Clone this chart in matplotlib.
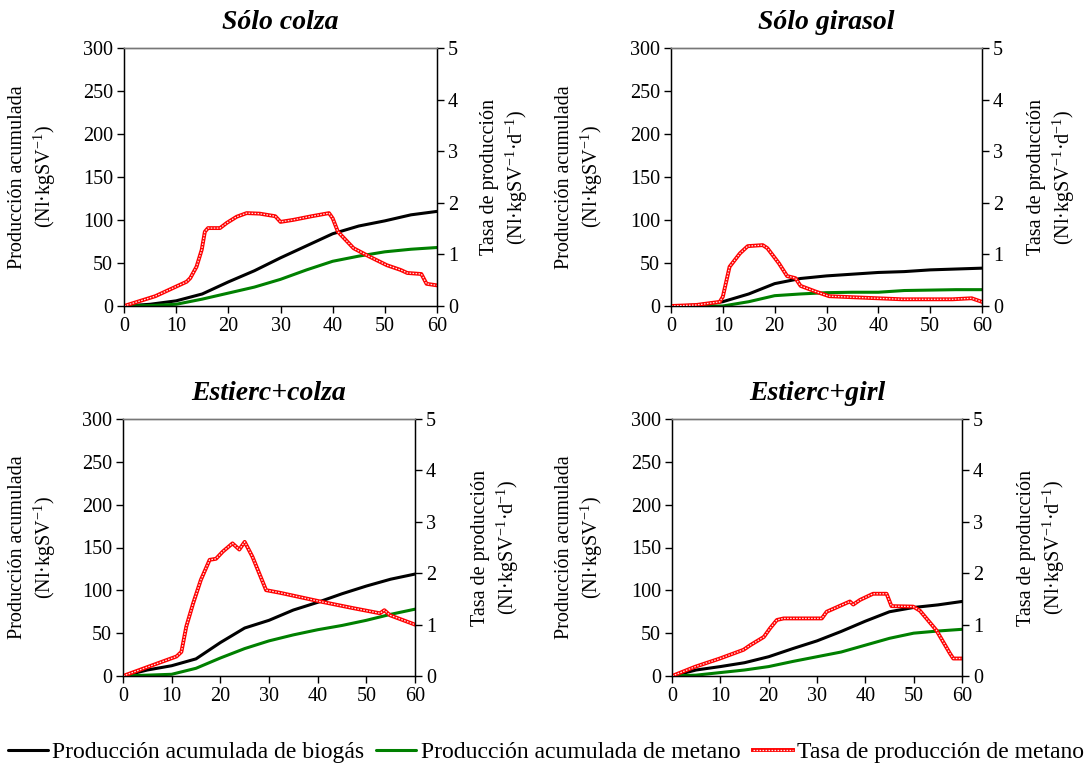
import matplotlib
matplotlib.use('Agg')
import matplotlib.pyplot as plt
from matplotlib.legend_handler import HandlerTuple

plt.rcParams['font.family'] = ['Liberation Serif', 'DejaVu Serif']
plt.rcParams['mathtext.fontset'] = 'custom'
plt.rcParams['mathtext.rm'] = 'Liberation Serif'
plt.rcParams['mathtext.it'] = 'Liberation Serif:italic'

# tiempo (d) para las curvas acumuladas
dias = [0, 5, 10, 15, 20, 25, 30, 35, 40, 45, 50, 55, 60]

# Sólo colza
biogas_colza = [0, 2, 6, 14, 28, 41, 56, 70, 84, 93, 99, 106, 110]
metano_colza = [0, 0.5, 2, 8, 15, 22, 31, 42, 52, 58, 63, 66, 68]
tasa_colza_t = [0, 6, 12, 12.7, 13.9, 14.9, 15.5, 16.1, 18.4, 19.7, 21.6, 23.5, 26, 29,
                30, 32.5, 36, 39.3, 40, 41, 44, 47, 50.4, 53, 54.3, 57, 58, 60]
tasa_colza = [0, 0.19, 0.47, 0.54, 0.76, 1.09, 1.44, 1.51, 1.51, 1.61, 1.73, 1.80, 1.79, 1.74,
              1.63, 1.67, 1.74, 1.80, 1.70, 1.44, 1.12, 0.96, 0.79, 0.70, 0.64, 0.62, 0.43, 0.40]

# Sólo girasol
biogas_girasol = [0, 1, 5, 14, 26, 32, 35, 37, 39, 40, 42, 43, 44]
metano_girasol = [0, 0, 0, 5, 12, 14, 15.5, 16, 16, 18, 18.5, 19, 19]
tasa_girasol_t = [0, 4.9, 9.4, 10, 11.3, 13.3, 14.8, 17.7, 18.6, 20.8, 22.4, 24, 25, 27.9,
                  30.5, 35, 44.6, 54.3, 58, 60]
tasa_girasol = [0, 0.02, 0.08, 0.18, 0.76, 1.02, 1.16, 1.18, 1.12, 0.83, 0.58, 0.54, 0.39, 0.28,
                0.19, 0.17, 0.13, 0.13, 0.15, 0.08]

# Estiércol + colza
biogas_ecolza = [0, 7, 12, 20, 39, 56, 65, 77, 86, 96, 105, 113, 119]
metano_ecolza = [0, 1, 2, 9, 21, 32, 41, 48, 54, 59, 65, 72, 78]
tasa_ecolza_t = [0, 5.2, 11, 12, 13, 14.4, 16, 17.8, 19.1, 20.5, 22.5, 23.9, 25, 26.6, 29.4,
                 32.2, 40.5, 47.3, 52.8, 53.7, 54.9, 60]
tasa_ecolza = [0, 0.18, 0.38, 0.47, 0.96, 1.41, 1.87, 2.26, 2.28, 2.42, 2.58, 2.46, 2.61, 2.32, 1.67,
               1.62, 1.45, 1.32, 1.22, 1.28, 1.18, 1.00]

# Estiércol + girasol
biogas_egir = [0, 7, 11, 15.5, 22.5, 32, 41, 52, 64, 75, 80, 83, 87]
metano_egir = [0, 1, 4, 7, 11, 17, 22.5, 28, 36, 44, 50, 52.5, 54.5]
tasa_egir_t = [0, 4.8, 9.9, 14.8, 16.2, 19, 20.3, 21.7, 23.1, 31, 32, 36.8, 37.5, 38.9, 41.6,
               44.4, 45.4, 49.9, 51.3, 54.7, 57.5, 58.2, 60]
tasa_egir = [0, 0.18, 0.34, 0.51, 0.60, 0.76, 0.93, 1.09, 1.12, 1.12, 1.25, 1.45, 1.39, 1.48, 1.60,
             1.60, 1.36, 1.35, 1.27, 0.89, 0.44, 0.34, 0.34]

titulos = ['Sólo colza', 'Sólo girasol', 'Estierc+colza', 'Estierc+girl']
paneles = [
    (biogas_colza, metano_colza, tasa_colza_t, tasa_colza),
    (biogas_girasol, metano_girasol, tasa_girasol_t, tasa_girasol),
    (biogas_ecolza, metano_ecolza, tasa_ecolza_t, tasa_ecolza),
    (biogas_egir, metano_egir, tasa_egir_t, tasa_egir),
]

W, H = 1085, 769
# (izquierda, derecha, arriba, abajo) en pixeles
cajas = [(124, 437, 48, 306), (671, 982, 48, 306),
         (123, 415, 419, 676), (672, 962, 419, 676)]
# centro horizontal (px) de las etiquetas de eje izquierda y derecha
pos_etiq = [(33, 505), (580, 1052), (33, 496), (580, 1042)]

fig = plt.figure(figsize=(W / 100, H / 100), dpi=100)
FS = 14.5

for caja, etiq, titulo, (bio, met, tt, tasa) in zip(cajas, pos_etiq, titulos, paneles):
    l, r, t, b = caja
    ax = fig.add_axes([l / W, 1 - b / H, (r - l) / W, (b - t) / H])
    ax2 = ax.twinx()

    lb, = ax.plot(dias, bio, color='black', lw=2.2, solid_capstyle='round')
    lg, = ax.plot(dias, met, color='#008000', lw=2.2, solid_capstyle='round')
    lr1, = ax2.plot(tt, tasa, color='#ff0000', lw=2.8)
    lr2, = ax2.plot(tt, tasa, color='#ffe4e4', lw=0.9, dashes=(1.3, 1.1))

    ax.set_xlim(0, 60)
    ax.set_ylim(0, 300)
    ax2.set_ylim(0, 5)
    ax.set_xticks(range(0, 61, 10))
    ax.set_yticks(range(0, 301, 50))
    ax2.set_yticks(range(0, 6))
    ax.tick_params(direction='out', length=5, width=1, labelsize=FS, pad=3)
    ax2.tick_params(direction='out', length=5, width=1, labelsize=FS, pad=3)

    for a in (ax, ax2):
        a.spines['top'].set_color('#777777')
        a.spines['top'].set_linewidth(1)
    ax.spines['left'].set_linewidth(1)
    ax.spines['bottom'].set_linewidth(1)
    ax2.spines['right'].set_linewidth(1)

    ax.set_ylabel('Producción acumulada\n(Nl·kgSV$^{-1}$)', fontsize=FS,
                  linespacing=1.25, multialignment='center')
    ax2.set_ylabel('Tasa de producción\n(Nl·kgSV$^{-1}$·d$^{-1}$)', fontsize=FS,
                   linespacing=1.25, multialignment='center')
    ax.yaxis.set_label_coords((etiq[0] - l) / (r - l), 0.5)
    ax2.yaxis.set_label_coords((etiq[1] - l) / (r - l), 0.5)
    ax.yaxis.label.set_va('center')
    ax2.yaxis.label.set_va('center')
    ax.set_title(titulo, fontsize=20, fontweight='bold', style='italic', pad=14)

fig.legend([lb, lg, (lr1, lr2)],
           ['Producción acumulada de biogás', 'Producción acumulada de metano',
            'Tasa de producción de metano'],
           handler_map={tuple: HandlerTuple(ndivide=1, pad=0)},
           loc='center', bbox_to_anchor=(546 / W, 1 - 752 / H), ncol=3, frameon=False,
           fontsize=17, handlelength=1.7, handletextpad=0.2, columnspacing=0.5,
           borderpad=0, borderaxespad=0)

fig.savefig('out.png', dpi=100)
